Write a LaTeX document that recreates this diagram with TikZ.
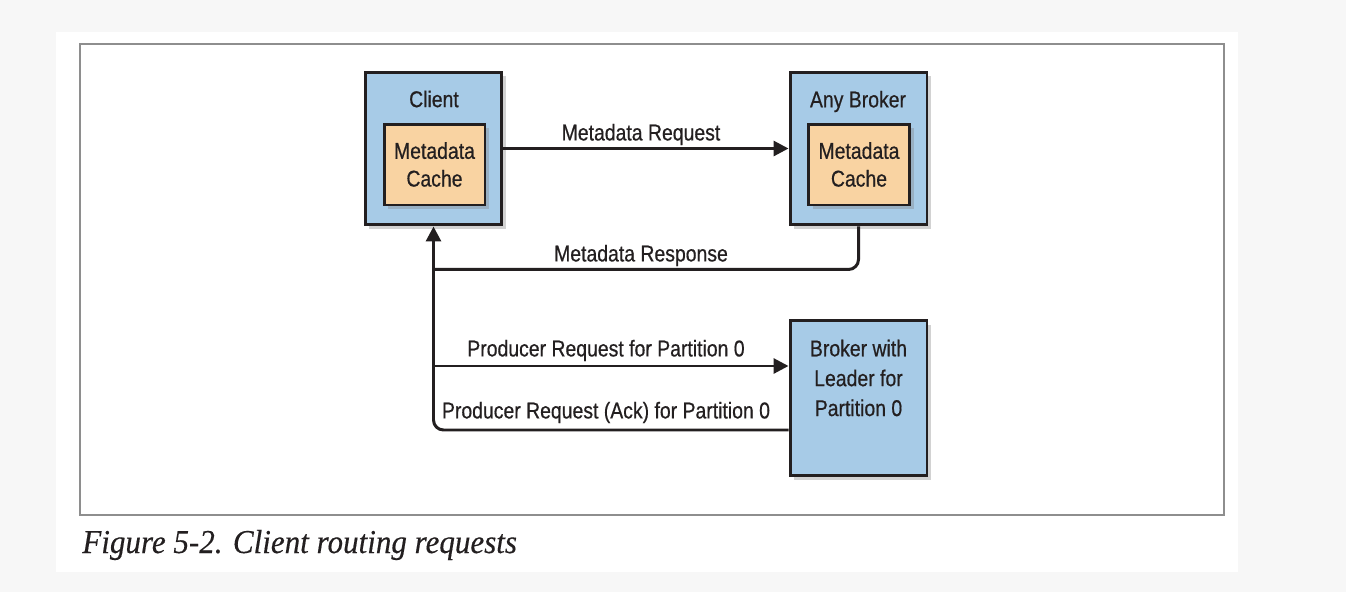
\documentclass[tikz,border=0pt]{standalone}
\usepackage{fontspec}
\setmainfont{Liberation Serif}
\newfontfamily\diagfont[FakeStretch=0.85,FakeBold=0.6]{Liberation Sans}
\newfontfamily\capfont[FakeStretch=0.93,FakeBold=0.3]{Liberation Serif}
\usetikzlibrary{arrows.meta,shadows,calc}

\definecolor{boxblue}{HTML}{A7CBE7}
\definecolor{cacheorange}{HTML}{F9D3A2}
\definecolor{inkgray}{HTML}{231F20}
\definecolor{framegray}{HTML}{8E8E8E}
\definecolor{pagegray}{HTML}{F7F7F7}

\tikzset{
  server/.style={draw=inkgray, line width=1.7pt, fill=boxblue,
    minimum width=2.74cm, minimum height=3.06cm, inner sep=0pt,
    drop shadow={shadow xshift=2.5pt, shadow yshift=-2.5pt, opacity=0.35}},
  cachebox/.style={server, fill=cacheorange,
    minimum width=2.02cm, minimum height=1.62cm, align=center},
  lbl/.style={text=inkgray, font=\diagfont\fontsize{13}{14.5}\selectfont, inner sep=0pt},
  wire/.style={draw=inkgray, line width=1.7pt},
  flow/.style={wire, -{Triangle[length=0.3cm,width=0.3cm]}}
}

\begin{document}
\begin{tikzpicture}[x=0.02cm,y=-0.02cm]

      % page
      \fill[pagegray] (0,0) rectangle (1346,592);
      \fill[white] (56,32) rectangle (1238,572);
      \draw[framegray, line width=1.2pt] (80,44) rectangle (1224,515);
      \useasboundingbox (0,0) rectangle (1346,592);

      %%% client and the two brokers %%%
      \node (client) at (433.5,148.5) [server] {};
      \node (anybroker) at (858.5,148.5) [server] {};
      \node (leader) at (858.5,398) [server, minimum height=3.1cm] {};

      \node (clientcache) at (434.5,164.5) [cachebox, lbl] {Metadata\\[1.3pt]Cache};
      \node (brokercache) at (859,164.5) [cachebox, lbl] {Metadata\\[1.3pt]Cache};

      \node (clientname) at (434,99) [lbl] {Client};
      \node (brokername) at (858,101.5) [lbl] {Any Broker};
      \node (leadername) at (858.5,378) [lbl, align=center]
        {Broker with\\[2.5pt]Leader for\\[2.5pt]Partition 0};

      % metadata round trip
      \draw[flow] (client.east) -- (anybroker.west);
      \draw[wire, rounded corners=0.2cm]
        (anybroker.south) |- ($(client.south)+(0,43)$);
      \node (mdreq) at (641,134.5) [lbl] {Metadata Request};
      \node (mdresp) at (641,255.5) [lbl] {Metadata Response};

      % produce and ack
      \draw[flow] ($(client.south |- leader.west)+(0,-32)$) -- ($(leader.west)+(0,-32)$);
      \draw[flow, rounded corners=0.2cm]
        ($(leader.west)+(0,32)$) -| (client.south);
      \node (prodreq) at (606,350.5) [lbl] {Producer Request for Partition 0};
      \node (prodack) at (606,412.5) [lbl] {Producer Request (Ack) for Partition 0};

      % caption
      \node (caption) at (82,553) [anchor=base west, inner sep=0pt, text=inkgray,
        font=\capfont\itshape\fontsize{19}{22}\selectfont] {Figure 5-2. Client routing requests};

\end{tikzpicture}
\end{document}
